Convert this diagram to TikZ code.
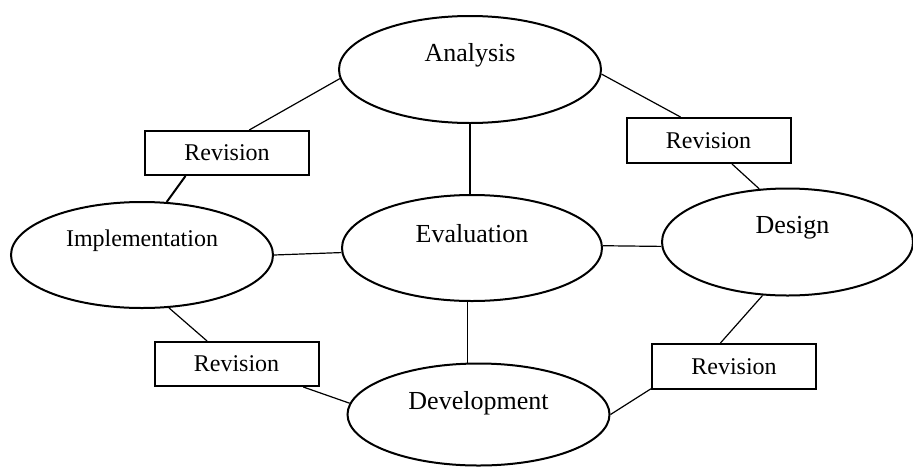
\documentclass[tikz,border=0pt]{standalone}
\usepackage{fontspec}
\setmainfont{Liberation Serif}
\usetikzlibrary{shapes}

\begin{document}
\begin{tikzpicture}
[x=0.5pt,y=-0.5pt,font=\fontsize{12}{14}\selectfont]
\tikzset{
	phase/.style = {ellipse, draw, line width=1pt, minimum width=131pt, minimum height=53.5pt, inner sep=0},
	revision/.style = {rectangle, draw, line width=1pt, minimum width=82pt, minimum height=22pt, inner sep=0},
	link/.style = {line width=0.6pt},
	every label/.style = {yshift=7pt, font=\fontsize{13}{15}\selectfont}
}
\useasboundingbox (0,0) rectangle (913,466);

\node(ana) [phase, label=center:Analysis] at (470,69.5) {};
\node(eva) [phase, minimum width=130pt, minimum height=53pt, label=center:Evaluation] at (472,248) {};
\node(des) [phase, minimum width=125.5pt, label={[xshift=2.5pt]center:Design}] at (787.5,242) {};
\node(imp) [phase, minimum height=53pt, label={[font=\fontsize{12}{14}\selectfont]center:Implementation}] at (142,255) {};
\node(dev) [phase, minimum height=51pt, label={[yshift=-1.5pt]center:Development}] at (478.5,414.5) {};

\node(rtl) [revision] at (227,153) {Revision};
\node(rtr) [revision, minimum height=22.5pt] at (708.5,140.5) {Revision};
\node(rbl) [revision] at (236.5,364) {Revision};
\node(rbr) [revision, minimum height=22.5pt] at (734,366.5) {Revision};

\path[link]
 (ana.184) edge (rtl.46)
 (rtl.209) edge [line width=1pt] (imp.65)
 (ana.358) edge (rtr.140)
 (rtr.315) edge (des.118)
 (des.245) edge (rbr.120)
 (rbr.195) edge (dev.east)
 (imp.297) edge (rbl.142)
 (rbl.341) edge (dev.175)
 (ana.south) edge (ana.south |- eva.north)
 (eva.182) edge (imp.east)
 (eva.1) edge (des.182)
 (eva.265) edge (eva.265 |- dev.north)
 ;
\end{tikzpicture}
\end{document}
